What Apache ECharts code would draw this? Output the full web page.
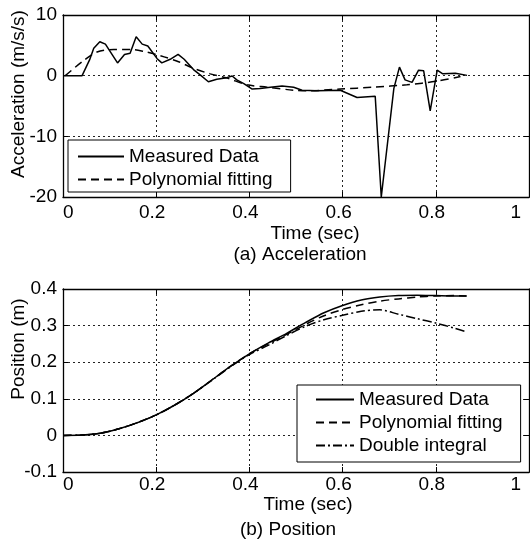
<!DOCTYPE html>
<html>
<head>
<meta charset="utf-8">
<script src="https://cdn.jsdelivr.net/npm/echarts@6/dist/echarts.min.js"></script>
<style>
  html, body { margin: 0; padding: 0; background: #fff; }
  #chart { width: 530px; height: 540px; }
</style>
</head>
<body>
<div id="chart"></div>
<script>
// (a) acceleration, measured data [time, m/s/s]
const accTime = [0, 0.041, 0.057, 0.066, 0.079, 0.091, 0.101, 0.117, 0.132, 0.144, 0.157, 0.170, 0.182,
  0.202, 0.212, 0.230, 0.247, 0.260, 0.280, 0.295, 0.312, 0.330, 0.348, 0.363, 0.373, 0.388, 0.406,
  0.423, 0.445, 0.470, 0.495, 0.513, 0.545, 0.595, 0.631, 0.670, 0.683, 0.710, 0.722, 0.734, 0.749,
  0.763, 0.774, 0.788, 0.803, 0.815, 0.842, 0.867];
const accMeasured = [0, 0, 2.6, 4.5, 5.6, 5.2, 4.0, 2.1, 3.5, 3.7, 6.4, 5.2, 4.9,
  2.8, 2.1, 2.7, 3.5, 2.7, 1.0, 0.1, -1.0, -0.6, -0.4, -0.05, -0.7, -1.3, -2.2,
  -2.1, -1.9, -1.7, -1.9, -2.4, -2.5, -2.4, -3.6, -3.4, -20, -2.1, 1.4, -0.7, -1.1,
  0.9, 0.8, -5.8, 0.9, 0.3, 0.4, 0.05];

// (a) polynomial fit
const accFitTime = [0.005, 0.041, 0.073, 0.109, 0.148, 0.173, 0.209, 0.248, 0.280, 0.316, 0.352, 0.395,
  0.438, 0.495, 0.524, 0.595, 0.667, 0.738, 0.803, 0.853];
const accFit = [0, 2.3, 3.9, 4.3, 4.3, 4.0, 3.3, 2.3, 1.2, 0.3, -0.4, -1.5,
  -1.9, -2.4, -2.5, -2.2, -1.9, -1.5, -0.9, -0.15];

// (b) position [time, m]
const posTime = [0, 0.04, 0.08, 0.12, 0.16, 0.2, 0.24, 0.28, 0.32, 0.36, 0.4, 0.44, 0.48,
  0.52, 0.56, 0.6, 0.64, 0.68, 0.72, 0.76, 0.8, 0.84, 0.866];
const posMeasured = [0, 0.001, 0.006, 0.018, 0.035, 0.056, 0.083, 0.115, 0.152, 0.189, 0.223, 0.252, 0.279,
  0.308, 0.335, 0.355, 0.370, 0.378, 0.382, 0.383, 0.382, 0.381, 0.381];
const posFit = [0, 0.001, 0.006, 0.018, 0.035, 0.056, 0.083, 0.115, 0.152, 0.189, 0.223, 0.250, 0.276,
  0.303, 0.327, 0.344, 0.357, 0.367, 0.373, 0.378, 0.381, 0.382, 0.381];
const posDouble = [0, 0.001, 0.006, 0.018, 0.035, 0.056, 0.083, 0.115, 0.151, 0.188, 0.221, 0.246, 0.273,
  0.298, 0.316, 0.328, 0.339, 0.343, 0.331, 0.319, 0.307, 0.293, 0.283];

const xTicks = { min: 0, max: 1, interval: 0.2 };
const accTicks = { min: -20, max: 10, interval: 10 };
const posTicks = { min: -0.1, max: 0.4, interval: 0.1 };

const FONT = "'Liberation Sans', Arial, Helvetica, sans-serif";
const zip = (xs, ys) => xs.map((x, i) => [x, ys[i]]);

const black = '#000';
const boxLine = { show: true, onZero: false, lineStyle: { color: black, width: 1.3 } };
const grid = { show: true, lineStyle: { color: '#222', width: 1, type: [2, 3] } };
const tick = { show: true, inside: true, length: 5, lineStyle: { color: black, width: 1 } };

function xAxes(gi, margin) {
  return [{
    gridIndex: gi, type: 'value', position: 'bottom', ...xTicks,
    axisLine: boxLine, axisTick: tick, splitLine: grid,
    axisLabel: { fontSize: 19, fontFamily: FONT, color: black, margin: margin,
      padding: [0, 8, 0, 0], alignMinLabel: 'left', alignMaxLabel: 'right' }
  }, {
    gridIndex: gi, type: 'value', position: 'top', ...xTicks,
    axisLine: boxLine, axisTick: tick, splitLine: { show: false }, axisLabel: { show: false }
  }];
}
function yAxes(gi, ticks) {
  return [{
    gridIndex: gi, type: 'value', position: 'left', ...ticks,
    axisLine: boxLine, axisTick: tick, splitLine: grid,
    axisLabel: { fontSize: 19, fontFamily: FONT, color: black, margin: 6 }
  }, {
    gridIndex: gi, type: 'value', position: 'right', ...ticks,
    axisLine: boxLine, axisTick: tick, splitLine: { show: false }, axisLabel: { show: false }
  }];
}

function line(name, gi, data, type, smooth) {
  return {
    name: name, type: 'line', xAxisIndex: gi * 2, yAxisIndex: gi * 2,
    data: data, showSymbol: false, symbol: 'none', smooth: smooth || false,
    lineStyle: { color: black, width: 1.5, type: type },
    itemStyle: { color: black }, animation: false, z: 3
  };
}

function title(text, x, y, rot) {
  return {
    type: 'text', x: x, y: y, rotation: rot || 0,
    style: { text: text, fontSize: 19, fontFamily: FONT, fill: black,
      align: 'center', verticalAlign: 'middle' }
  };
}

const legendBase = {
  orient: 'vertical', selectedMode: false, backgroundColor: '#fff',
  borderColor: black, borderWidth: 1, itemGap: 4, itemHeight: 2,
  // line-only legend keys, hide the marker ECharts adds
  itemStyle: { color: 'rgba(0,0,0,0)', borderWidth: 0 },
  textStyle: { fontSize: 19, fontFamily: FONT, color: black },
  z: 10
};

const chart = echarts.init(document.getElementById('chart'));
chart.setOption({
  animation: false,
  backgroundColor: '#fff',
  grid: [
    { left: 63, top: 15, width: 466, height: 182 },
    { left: 63, top: 289, width: 466, height: 183 }
  ],
  xAxis: [...xAxes(0, 6), ...xAxes(1, 3)],
  yAxis: [...yAxes(0, accTicks), ...yAxes(1, posTicks)],
  legend: [
    { ...legendBase, left: 68, top: 140, itemWidth: 46, padding: [7, 18, 3, 9],
      data: ['Measured Data', 'Polynomial fitting'] },
    { ...legendBase, left: 297, top: 385, itemWidth: 38, padding: [5, 18, 7, 18],
      data: ['Measured Data', 'Polynomial fitting', 'Double integral'] }
  ],
  graphic: [
    title('Acceleration (m/s/s)', 19, 94, Math.PI / 2),
    title('Time (sec)', 315, 234),
    title('(a) Acceleration', 300, 255),
    title('Position (m)', 19, 349, Math.PI / 2),
    title('Time (sec)', 308, 505),
    title('(b) Position', 288, 530)
  ],
  series: [
    line('Measured Data', 0, zip(accTime, accMeasured), 'solid'),
    line('Polynomial fitting', 0, zip(accFitTime, accFit), [8, 5], 0.3),
    line('Measured Data', 1, zip(posTime, posMeasured), 'solid', 0.3),
    line('Polynomial fitting', 1, zip(posTime, posFit), [8, 5], 0.3),
    line('Double integral', 1, zip(posTime, posDouble), [9, 3, 2, 3], 0.3)
  ]
});
</script>
</body>
</html>
